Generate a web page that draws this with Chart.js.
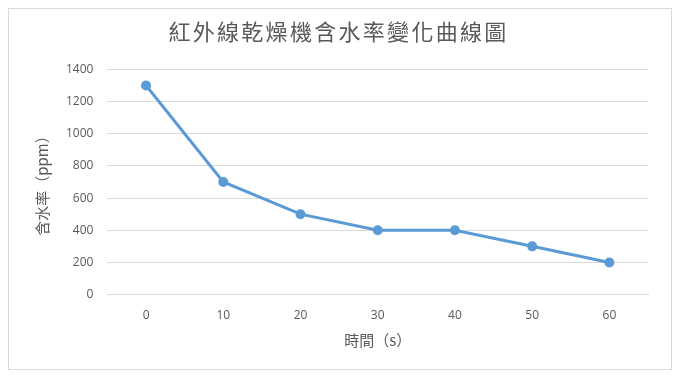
<!DOCTYPE html>
<html>
<head>
<meta charset="utf-8">
<script src="https://cdn.jsdelivr.net/npm/chart.js@4"></script>
<style>
    body { margin: 0; background: #ffffff; }
    .frame {
        position: absolute;
        left: 8px; top: 8px;
        width: 662px; height: 360px;
        border: 1px solid #d9d9d9;
    }
</style>
</head>
<body>
<div class="frame"><canvas id="dryChart" width="662" height="360"></canvas></div>
<script>
// Data
const timeLabels = ['0', '10', '20', '30', '40', '50', '60'];
const moistureValues = [1300, 700, 500, 400, 400, 300, 200];
const yTicks = [0, 200, 400, 600, 800, 1000, 1200, 1400];

const greyText = '#595959';
const cjkFont = '"Noto Sans CJK TC", "Noto Sans", sans-serif';
const numFont = '"Open Sans", sans-serif';

// Spread the main title characters a bit, only while the title block draws
const titleSpacing = {
    id: 'titleSpacing',
    afterLayout(chart) {
        const tb = chart.titleBlock;
        if (!tb || tb._spaced) return;
        const origDraw = tb.draw.bind(tb);
        tb.draw = (area) => {
            chart.ctx.letterSpacing = '2.3px';
            origDraw(area);
            chart.ctx.letterSpacing = '0px';
        };
        tb._spaced = true;
    }
};

document.addEventListener('DOMContentLoaded', () => {
    const ctx = document.getElementById('dryChart').getContext('2d');
    new Chart(ctx, {
        type: 'line',
        data: {
            labels: timeLabels,
            datasets: [{
                label: '含水率',
                data: moistureValues,
                borderColor: '#5b9bd5',
                backgroundColor: '#5b9bd5',
                borderWidth: 3,
                pointRadius: 3.5,
                pointHoverRadius: 4,
                tension: 0,
                fill: false
            }]
        },
        plugins: [titleSpacing],
        options: {
            responsive: false,
            animation: false,
            layout: { padding: { left: 20, right: 23, top: 1, bottom: 16 } },
            plugins: {
                legend: { display: false },
                tooltip: { enabled: false },
                title: {
                    display: true,
                    text: '紅外線乾燥機含水率變化曲線圖',
                    color: greyText,
                    font: { family: cjkFont, size: 22, weight: 'normal' },
                    padding: { top: 8, bottom: 25 }
                }
            },
            scales: {
                x: {
                    offset: true,
                    grid: { display: false },
                    border: { color: '#d9d9d9' },
                    ticks: { color: greyText, font: { family: numFont, size: 12 }, padding: 6 },
                    title: {
                        display: true,
                        text: '時間（s）',
                        color: greyText,
                        font: { family: cjkFont, size: 15 },
                        padding: { top: 2 }
                    }
                },
                y: {
                    min: 0,
                    max: 1400,
                    afterBuildTicks: axis => { axis.ticks = yTicks.map(v => ({ value: v })); },
                    grid: { color: '#d9d9d9', drawTicks: false },
                    border: { display: false },
                    ticks: {
                        color: greyText,
                        font: { family: numFont, size: 12 },
                        padding: 14,
                        callback: value => String(value)
                    },
                    title: {
                        display: true,
                        text: '含水率（ppm）',
                        color: greyText,
                        font: { family: cjkFont, size: 15 },
                        padding: { bottom: 1 }
                    }
                }
            }
        }
    });
});
</script>
</body>
</html>
